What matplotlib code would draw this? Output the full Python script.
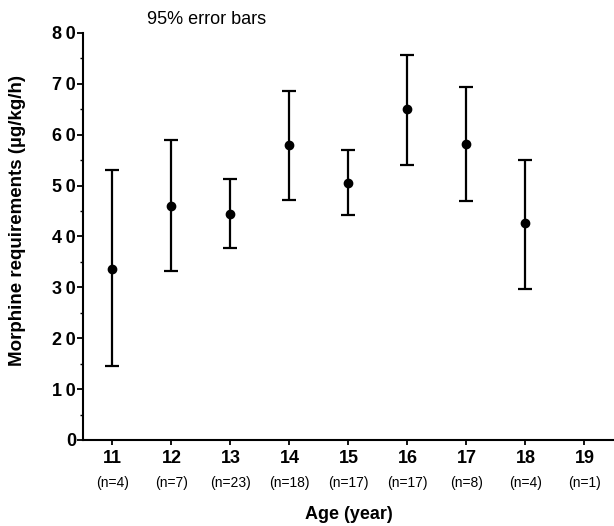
import matplotlib.pyplot as plt
from matplotlib.ticker import MultipleLocator
from matplotlib.transforms import blended_transform_factory

plt.rcParams['font.family'] = ['Liberation Sans', 'DejaVu Sans']

ages = [11, 12, 13, 14, 15, 16, 17, 18, 19]
counts = ['(n=4)', '(n=7)', '(n=23)', '(n=18)', '(n=17)', '(n=17)', '(n=8)', '(n=4)', '(n=1)']
# means and 95% limits (age 19 has no data point)
point_ages = [11, 12, 13, 14, 15, 16, 17, 18]
means = [33.6, 45.9, 44.5, 57.9, 50.5, 65.0, 58.2, 42.6]
upper = [53.0, 58.9, 51.2, 68.6, 57.0, 75.7, 69.3, 55.1]
lower = [14.6, 33.3, 37.8, 47.1, 44.3, 54.1, 47.0, 29.7]
yticks = [0, 10, 20, 30, 40, 50, 60, 70, 80]
ytick_labels = ['0', '1\u20090', '2\u20090', '3\u20090', '4\u20090', '5\u20090',
                '6\u20090', '7\u20090', '8\u20090']

fig = plt.figure(figsize=(6.14, 5.26), dpi=100)
ax = fig.add_axes([0.135, 0.1635, 0.865, 0.774])

err_lo = [m - l for m, l in zip(means, lower)]
err_hi = [u - m for m, u in zip(means, upper)]
ax.errorbar(point_ages, means, yerr=[err_lo, err_hi], fmt='o', color='black',
            markersize=6, elinewidth=1.6, capsize=5, capthick=1.6)

ax.set_xlim(10.5, 19.5)
ax.set_ylim(0, 80)
ax.set_xticks(ages)
ax.set_xticklabels([str(a) for a in ages], fontsize=13, fontweight='bold')
ax.set_yticks(yticks)
ax.set_yticklabels(ytick_labels, fontsize=13, fontweight='bold')
ax.yaxis.set_minor_locator(MultipleLocator(5))

for s in ['top', 'right']:
    ax.spines[s].set_visible(False)
for s in ['left', 'bottom']:
    ax.spines[s].set_linewidth(1.5)

ax.tick_params(axis='y', which='major', length=4, width=1.3, pad=1)
ax.tick_params(axis='y', which='minor', length=2, width=1.0)
ax.tick_params(axis='x', which='major', length=3.5, width=1.3, pad=4)

trans = blended_transform_factory(ax.transData, ax.transAxes)
for a, c in zip(ages, counts):
    ax.text(a, -0.106, c, transform=trans, ha='center', va='center', fontsize=10)

ax.text(0.5, -0.184, 'Age (year)', transform=ax.transAxes, ha='center', va='center',
        fontsize=13, fontweight='bold')
fig.text(18 / 614, 1 - 220 / 526, 'Morphine requirements (\u00b5g/kg/h)', rotation=90,
         ha='center', va='center', fontsize=13.5, fontweight='bold')
fig.text(207 / 614, 1 - 19 / 526, '95% error bars', ha='center', va='center', fontsize=13)

fig.savefig('out.png', dpi=100)
